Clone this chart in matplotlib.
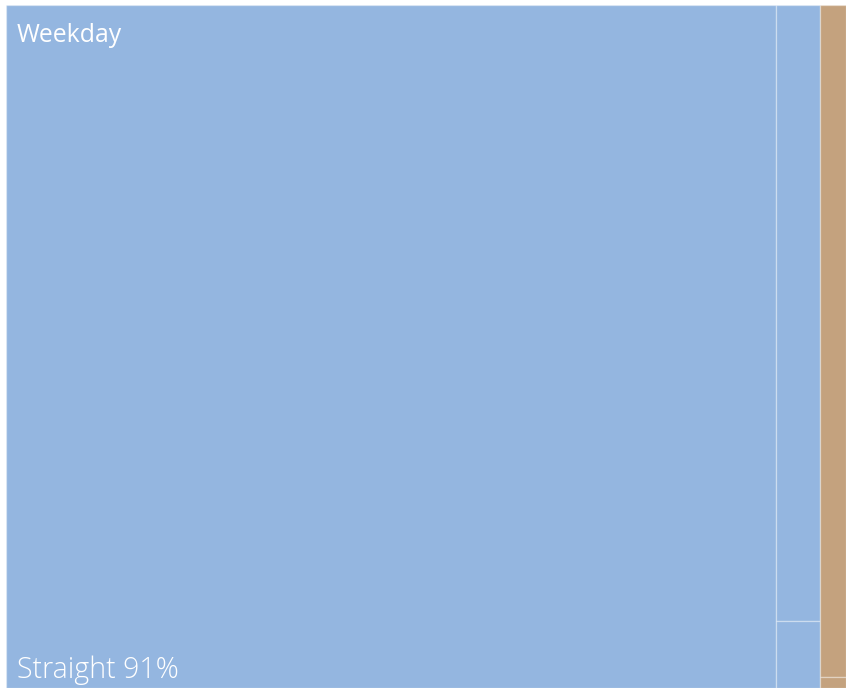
import matplotlib
matplotlib.use('Agg')
import matplotlib.pyplot as plt
from matplotlib.patches import Rectangle

# treemap data (percent of total)
groups = ['Weekday', 'Weekend']
group_colors = ['#94b6e0', '#c4a27e']
weekday_labels = ['Straight', 'Other A', 'Other B']
weekday_vals = [91.4, 4.72, 0.51]
weekend_labels = ['Weekend A', 'Weekend B']
weekend_vals = [3.05, 0.05]

W, H = 846, 689
fig = plt.figure(figsize=(W / 100, H / 100), dpi=100)
ax = fig.add_axes([6 / W, 1 / H, 840 / W, 683 / H])
ax.set_xlim(0, 1)
ax.set_ylim(0, 1)
ax.axis('off')

total = sum(weekday_vals) + sum(weekend_vals)
edge = (1, 1, 1, 0.3)

x = 0
for gname, vals, color in zip(groups, [weekday_vals, weekend_vals], group_colors):
    gw = sum(vals) / total
    # first tile takes a full-height strip, the rest stack in the remaining strip
    w0 = vals[0] / total
    if gname == 'Weekday':
        ax.add_patch(Rectangle((x, 0), w0, 1, facecolor=color, edgecolor=edge, lw=1))
        rest = vals[1:]
        rx = x + w0
        rw = gw - w0
        y = 1
        for v in rest:
            h = v / sum(rest)
            ax.add_patch(Rectangle((rx, y - h), rw, h, facecolor=color, edgecolor=edge, lw=1))
            y -= h
    else:
        y = 1
        for v in vals:
            h = v / sum(vals)
            ax.add_patch(Rectangle((x, y - h), gw, h, facecolor=color, edgecolor=edge, lw=1))
            y -= h
    x += gw

ax.text(11 / 840, 1 - 37 / 683, 'Weekday', color='white', fontsize=17.8,
        family='Open Sans', va='baseline', ha='left')
ax.text(11 / 840, 10 / 683, '%s %d%%' % (weekday_labels[0], weekday_vals[0]), color='white',
        fontsize=20.6, family='Open Sans', weight='light', va='baseline', ha='left')

fig.savefig('out.png', dpi=100)
